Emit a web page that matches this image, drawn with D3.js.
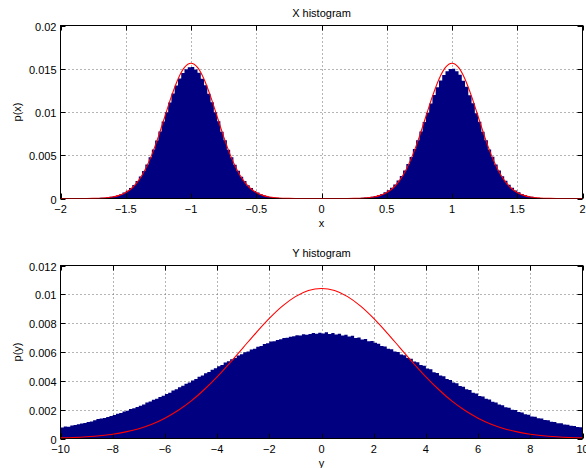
<!DOCTYPE html>
<html>
<head>
<meta charset="utf-8">
<script src="https://cdn.jsdelivr.net/npm/d3@7"></script>
<style>
  body { margin: 0; background: #fff; }
  svg { display: block; font-family: "Liberation Sans", Arial, sans-serif; }
</style>
</head>
<body>
<div id="chart"></div>
<script>
// ---- X histogram (bins of 0.025 from -2 to 2) ----
const xBinStart = -2, xBinWidth = 0.025;
const xHist = [
  // -2 .. -1
  0.00001,0.00001,0.00001,0.00002,0.00002,0.00002,0.00003,0.00003,0.00004,0.00004,0.00005,0.00006,
  0.00008,0.00010,0.00014,0.00019,0.00026,0.00036,0.00050,0.00068,0.00091,0.00120,0.00157,0.00201,
  0.00255,0.00319,0.00392,0.00476,0.00567,0.00670,0.00776,0.00889,0.00998,0.01109,0.01213,0.01306,
  0.01387,0.01452,0.01494,0.01518,
  // -1 .. 0
  0.01521,0.01490,0.01455,0.01384,0.01310,0.01211,0.01113,0.00996,0.00892,0.00773,0.00672,0.00565,
  0.00478,0.00389,0.00321,0.00252,0.00203,0.00154,0.00121,0.00088,0.00068,0.00048,0.00036,0.00024,
  0.00018,0.00012,0.00009,0.00006,0.00005,0.00004,0.00003,0.00003,0.00002,0.00002,0.00002,0.00001,
  0.00001,0.00001,0.00001,0.00001,
  // 0 .. 1
  0.00001,0.00001,0.00001,0.00001,0.00002,0.00002,0.00002,0.00003,0.00003,0.00004,0.00005,0.00006,
  0.00008,0.00011,0.00015,0.00021,0.00028,0.00039,0.00053,0.00071,0.00095,0.00125,0.00161,0.00207,
  0.00261,0.00325,0.00398,0.00481,0.00572,0.00672,0.00776,0.00884,0.00990,0.01097,0.01197,0.01287,
  0.01365,0.01428,0.01472,0.01496,
  // 1 .. 2
  0.01499,0.01470,0.01431,0.01362,0.01292,0.01193,0.01100,0.00985,0.00887,0.00771,0.00674,0.00566,
  0.00482,0.00393,0.00325,0.00257,0.00206,0.00159,0.00124,0.00092,0.00071,0.00051,0.00038,0.00027,
  0.00019,0.00013,0.00010,0.00007,0.00006,0.00005,0.00004,0.00003,0.00003,0.00002,0.00002,0.00002,
  0.00001,0.00001,0.00001,0.00001
];
// red curve, sampled every 0.05 from -2 to 2
const xCurveStart = -2, xCurveStep = 0.05;
const xCurve = [
  // -2 .. -1
  0,0,0,0,0,0.00001,0.00003,0.00008,0.00017,0.00036,0.00069,0.00124,0.00212,0.00338,0.00507,
  0.00716,0.00948,0.01180,0.01379,0.01515,0.01563,
  // -0.95 .. 0
  0.01515,0.01379,0.01180,0.00948,0.00716,0.00507,0.00338,0.00212,0.00124,0.00069,0.00036,
  0.00017,0.00008,0.00003,0.00001,0,0,0,0,0,
  // 0.05 .. 1
  0,0,0,0,0.00001,0.00003,0.00008,0.00017,0.00036,0.00069,0.00124,0.00212,0.00338,0.00507,
  0.00716,0.00948,0.01180,0.01379,0.01515,0.01563,
  // 1.05 .. 2
  0.01515,0.01379,0.01180,0.00948,0.00716,0.00507,0.00338,0.00212,0.00124,0.00069,0.00036,
  0.00017,0.00008,0.00003,0.00001,0,0,0,0,0
];
const xTicks = [-2, -1.5, -1, -0.5, 0, 0.5, 1, 1.5, 2];
const pxTicks = [0, 0.005, 0.01, 0.015, 0.02];

// ---- Y histogram (bins of 0.125 from -10 to 10) ----
const yBinStart = -10, yBinWidth = 0.125;
const yHist = [
  // -10 .. 0
  0.00077,0.00083,0.00081,0.00091,0.00094,0.00099,0.00104,0.00107,
  0.00114,0.00118,0.00126,0.00136,0.00138,0.00143,0.00150,0.00156,
  0.00163,0.00172,0.00177,0.00187,0.00193,0.00204,0.00209,0.00219,
  0.00228,0.00236,0.00249,0.00256,0.00268,0.00276,0.00288,0.00296,
  0.00309,0.00318,0.00333,0.00341,0.00356,0.00366,0.00380,0.00389,
  0.00403,0.00412,0.00428,0.00437,0.00452,0.00462,0.00477,0.00487,
  0.00501,0.00510,0.00527,0.00535,0.00550,0.00559,0.00575,0.00584,
  0.00598,0.00603,0.00617,0.00622,0.00636,0.00641,0.00655,0.00660,
  0.00672,0.00674,0.00684,0.00689,0.00697,0.00699,0.00706,0.00709,
  0.00717,0.00714,0.00723,0.00719,0.00725,0.00731,0.00726,0.00734,
  // 0 .. 10
  0.00729,0.00737,0.00725,0.00731,0.00722,0.00726,0.00715,0.00719,
  0.00708,0.00712,0.00697,0.00701,0.00686,0.00691,0.00674,0.00677,
  0.00665,0.00658,0.00641,0.00638,0.00623,0.00619,0.00604,0.00600,
  0.00583,0.00578,0.00559,0.00553,0.00534,0.00529,0.00510,0.00505,
  0.00485,0.00480,0.00460,0.00455,0.00437,0.00432,0.00412,0.00406,
  0.00388,0.00383,0.00365,0.00359,0.00341,0.00336,0.00318,0.00312,
  0.00295,0.00291,0.00275,0.00271,0.00255,0.00250,0.00235,0.00231,
  0.00216,0.00213,0.00200,0.00197,0.00184,0.00181,0.00168,0.00165,
  0.00153,0.00151,0.00141,0.00139,0.00129,0.00127,0.00117,0.00115,
  0.00106,0.00105,0.00097,0.00096,0.00088,0.00087,0.00080,0.00078
];
// red curve, sampled every 0.5 from -10 to 10
const yCurveStart = -10, yCurveStep = 0.5;
const yCurve = [
  0.00004,0.00007,0.00012,0.00019,0.00030,0.00046,0.00068,0.00099,0.00141,0.00194,
  0.00259,0.00338,0.00428,0.00527,0.00631,0.00735,0.00833,0.00918,0.00984,0.01026,
  0.01040,
  0.01026,0.00984,0.00918,0.00833,0.00735,0.00631,0.00527,0.00428,0.00338,0.00259,
  0.00194,0.00141,0.00099,0.00068,0.00046,0.00030,0.00019,0.00012,0.00007,0.00004
];
const yTicks = [-10, -8, -6, -4, -2, 0, 2, 4, 6, 8, 10];
const pyTicks = [0, 0.002, 0.004, 0.006, 0.008, 0.01, 0.012];

const W = 586, H = 468;
const svg = d3.select('#chart').append('svg').attr('width', W).attr('height', H);
const fmt = d3.format('~g');

function drawPanel(id, box, hist, binStart, binW, curve, cStart, cStep, xt, yt, title, xLab, yLab) {
  const x = d3.scaleLinear().domain([xt[0], xt[xt.length - 1]]).range([box.l, box.r]);
  const y = d3.scaleLinear().domain([yt[0], yt[yt.length - 1]]).range([box.b, box.t]);
  const g = svg.append('g');

  svg.append('defs').append('clipPath').attr('id', 'clip-' + id)
    .append('rect').attr('x', box.l).attr('y', box.t).attr('width', box.r - box.l).attr('height', box.b - box.t);

  // grid
  const grid = g.append('g').attr('stroke', '#6a6a6a').attr('stroke-width', 1).attr('stroke-dasharray', '1,3');
  grid.selectAll('line.gx').data(xt.slice(1, -1)).enter().append('line')
    .attr('x1', d => Math.round(x(d)) + 0.5).attr('x2', d => Math.round(x(d)) + 0.5)
    .attr('y1', box.t).attr('y2', box.b);
  grid.selectAll('line.gy').data(yt.slice(1, -1)).enter().append('line')
    .attr('y1', d => Math.round(y(d)) + 0.5).attr('y2', d => Math.round(y(d)) + 0.5)
    .attr('x1', box.l).attr('x2', box.r);

  // histogram as a stepped area
  const pts = hist.map((v, i) => [binStart + i * binW, v]);
  pts.push([binStart + hist.length * binW, hist[hist.length - 1]]);
  g.append('path').datum(pts)
    .attr('clip-path', `url(#clip-${id})`)
    .attr('fill', '#000080')
    .attr('d', d3.area().curve(d3.curveStepAfter).x(d => x(d[0])).y0(y(0)).y1(d => y(d[1])));

  // axes box + ticks (inward, on all four sides)
  const ax = g.append('g').attr('stroke', '#000').attr('stroke-width', 1).attr('fill', 'none');
  ax.append('rect').attr('x', box.l).attr('y', box.t).attr('width', box.r - box.l).attr('height', box.b - box.t);
  xt.forEach(d => {
    const px = Math.round(x(d)) + 0.5;
    ax.append('line').attr('x1', px).attr('x2', px).attr('y1', box.b).attr('y2', box.b - 5);
    ax.append('line').attr('x1', px).attr('x2', px).attr('y1', box.t).attr('y2', box.t + 5);
  });
  yt.forEach(d => {
    const py = Math.round(y(d)) + 0.5;
    ax.append('line').attr('y1', py).attr('y2', py).attr('x1', box.l).attr('x2', box.l + 5);
    ax.append('line').attr('y1', py).attr('y2', py).attr('x1', box.r).attr('x2', box.r - 5);
  });

  // fitted curve
  const cpts = curve.map((v, i) => [cStart + i * cStep, v]);
  g.append('path').datum(cpts)
    .attr('clip-path', `url(#clip-${id})`)
    .attr('fill', 'none').attr('stroke', '#ff0000').attr('stroke-width', 1.1)
    .attr('d', d3.line().curve(d3.curveMonotoneX).x(d => x(d[0])).y(d => y(d[1])));

  // labels
  const tx = g.append('g').attr('font-size', 11).attr('fill', '#000');
  tx.selectAll('text.xt').data(xt).enter().append('text')
    .attr('x', d => x(d)).attr('y', box.b + 14).attr('text-anchor', 'middle').text(d => fmt(d));
  tx.selectAll('text.yt').data(yt).enter().append('text')
    .attr('x', box.l - 4).attr('y', d => y(d) + 5).attr('text-anchor', 'end').text(d => fmt(d));
  tx.append('text').attr('x', (box.l + box.r) / 2).attr('y', box.t - 9)
    .attr('text-anchor', 'middle').text(title);
  tx.append('text').attr('x', (box.l + box.r) / 2).attr('y', box.b + 28)
    .attr('text-anchor', 'middle').text(xLab);
  tx.append('text')
    .attr('transform', `translate(21,${(box.t + box.b) / 2}) rotate(-90)`)
    .attr('text-anchor', 'middle').text(yLab);
}

drawPanel('top', { l: 60.5, r: 582.5, t: 25.5, b: 198.5 },
  xHist, xBinStart, xBinWidth, xCurve, xCurveStart, xCurveStep,
  xTicks, pxTicks, 'X histogram', 'x', 'p(x)');
drawPanel('bot', { l: 60.5, r: 582.5, t: 265.5, b: 438.5 },
  yHist, yBinStart, yBinWidth, yCurve, yCurveStart, yCurveStep,
  yTicks, pyTicks, 'Y histogram', 'y', 'p(y)');
</script>
</body>
</html>
